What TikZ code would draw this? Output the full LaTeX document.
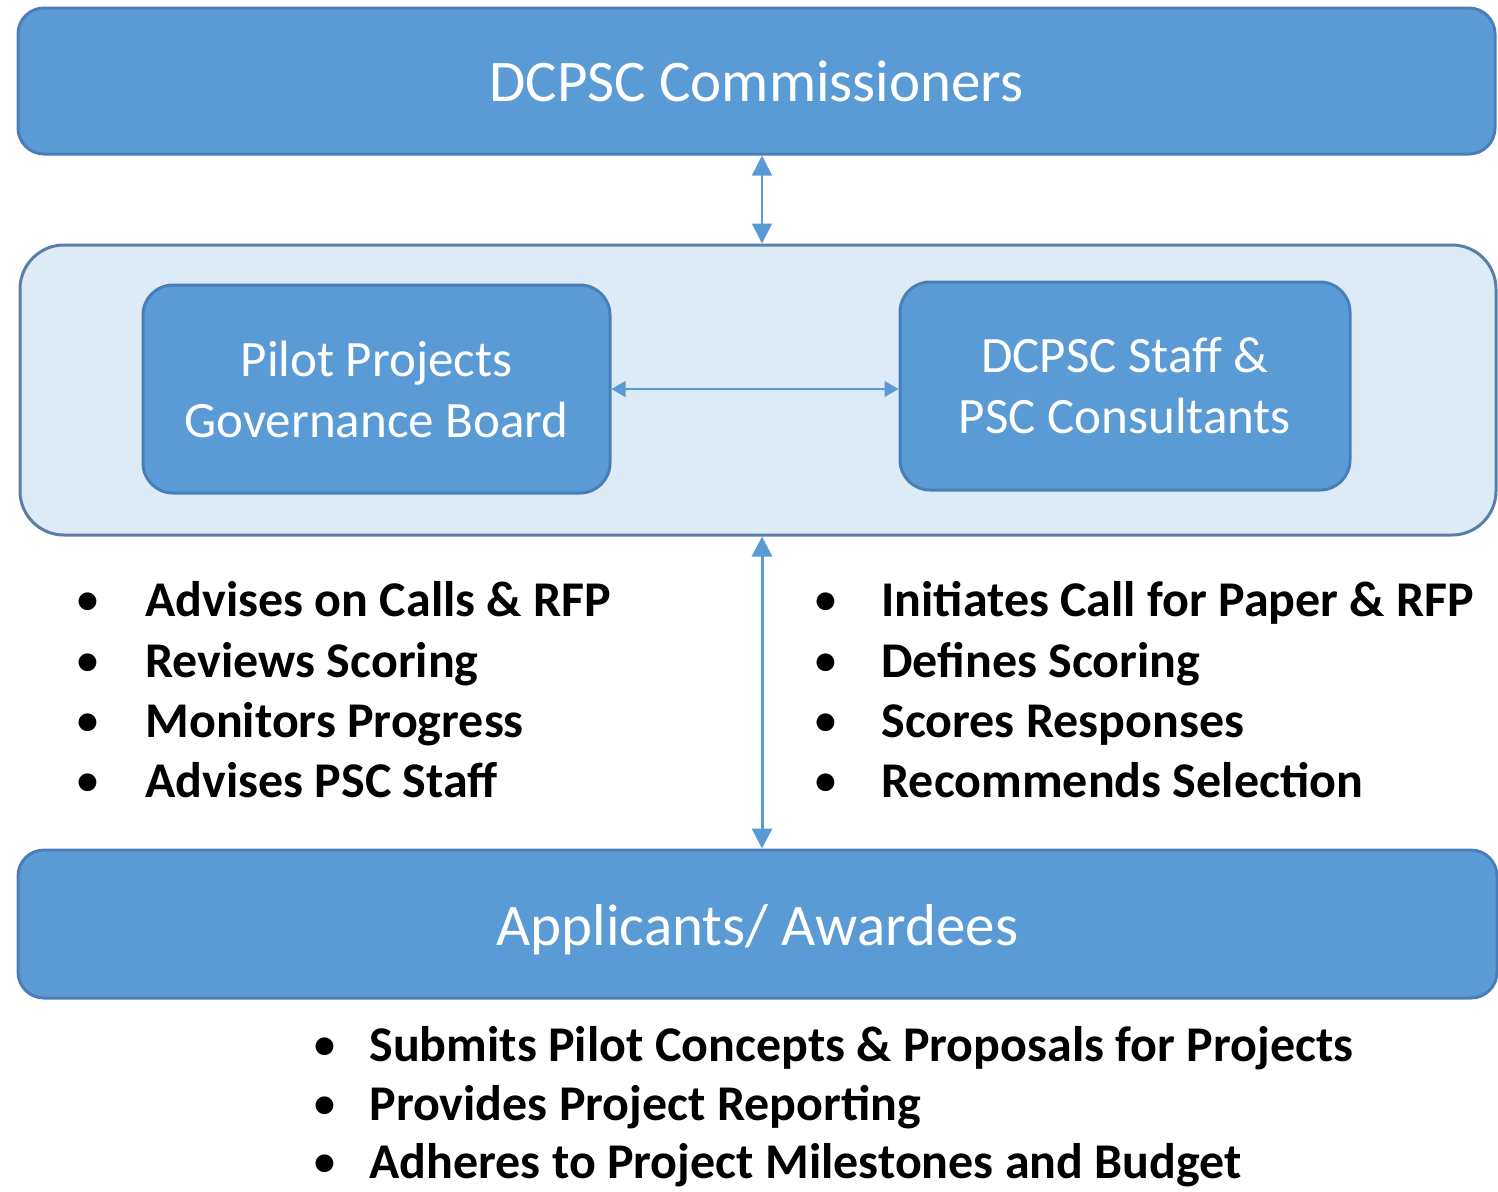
\documentclass[tikz,border=0pt]{standalone}
\usepackage{fontspec}
\setmainfont{Carlito}
\usetikzlibrary{arrows.meta}
\definecolor{boxblue}{HTML}{5B9BD5}
\definecolor{boxedge}{HTML}{4A7EB8}
\definecolor{paleblue}{HTML}{DDEBF7}
\definecolor{paleedge}{HTML}{5A7FA6}
\definecolor{arrowblue}{HTML}{5B9BD5}
\newcommand{\listdot}{\raisebox{1.2pt}{\textbullet}}
\tikzset{
  bluebox/.style={draw=boxedge, line width=1.5pt, fill=boxblue, rounded corners=13pt,
    text=white, align=center, inner sep=0pt},
  groupbox/.style={draw=paleedge, line width=1.5pt, fill=paleblue, rounded corners=22pt, inner sep=0pt},
  boxtitle/.style={font=\fontsize{29.5pt}{36pt}\selectfont},
  boxlabel/.style={font=\fontsize{25.5pt}{30.5pt}\selectfont},
  bulletmark/.style={anchor=base, inner sep=0pt, font=\bfseries\fontsize{21pt}{30pt}\selectfont},
  bullettext/.style={anchor=base west, inner sep=0pt, font=\bfseries\fontsize{25pt}{30pt}\selectfont},
  link/.style={draw=arrowblue, {Triangle[width=10pt,length=10pt]}-{Triangle[width=10pt,length=10pt]}},
}
\begin{document}
\begin{tikzpicture}[x=0.5pt,y=-0.5pt]
  % canvas
  \path[use as bounding box, fill=white] (0,0) rectangle (1498,1191);

  % top level
  \node[bluebox, boxtitle, minimum width=738.5pt, minimum height=73pt] (top) at (756.5,81) {DCPSC Commissioners};

  % middle group with its two bodies
  \node[groupbox, minimum width=738pt, minimum height=145pt] (mid) at (758,390) {};
  \node[bluebox, boxlabel, minimum width=233.5pt, minimum height=104pt, rounded corners=15pt] (pilot) at (376.5,389)
    {Pilot Projects\\Governance Board};
  \node[bluebox, boxlabel, minimum width=225pt, minimum height=104pt, rounded corners=15pt] (staff) at (1125,386)
    {DCPSC Staff \&\\PSC Consultants};

  % bottom level
  \node[bluebox, boxtitle, minimum width=739.5pt, minimum height=74pt, text height=27pt, text depth=6pt] (bottom) at (757.5,924)
    {Applicants/ Awardees};

  % connectors
  \coordinate (axis) at (762,0);
  \draw[link, line width=0.8pt] (top.south -| axis) -- (mid.north -| axis);
  \draw[link, line width=0.8pt, {Triangle[width=8pt,length=7pt]}-{Triangle[width=8pt,length=7pt]}]
    (pilot.east) -- (pilot.east -| staff.west);
  \draw[link, line width=1.5pt] (mid.south -| axis) -- (bottom.north -| axis);

  % duties of the board
  \foreach \y/\t [count=\i] in {616/Advises on Calls \& RFP, 677/Reviews Scoring, 737/Monitors Progress, 797/Advises PSC Staff} {
    \node[bulletmark] (lb\i) at (88,\y) {\listdot};
    \node[bullettext] (lt\i) at (145,\y) {\t};
  }
  % duties of the staff
  \foreach \y/\t [count=\i] in {616/Initiates Call for Paper \& RFP, 677/Defines Scoring, 737/Scores Responses, 797/Recommends Selection} {
    \node[bulletmark] (rb\i) at (826,\y) {\listdot};
    \node[bullettext] (rt\i) at (881,\y) {\t};
  }
  % duties of the applicants
  \foreach \y/\t [count=\i] in {1061/Submits Pilot Concepts \& Proposals for Projects, 1120/Provides Project Reporting, 1178/Adheres to Project Milestones and Budget} {
    \node[bulletmark] (bb\i) at (325,\y) {\listdot};
    \node[bullettext] (bt\i) at (369,\y) {\t};
  }
\end{tikzpicture}
\end{document}
